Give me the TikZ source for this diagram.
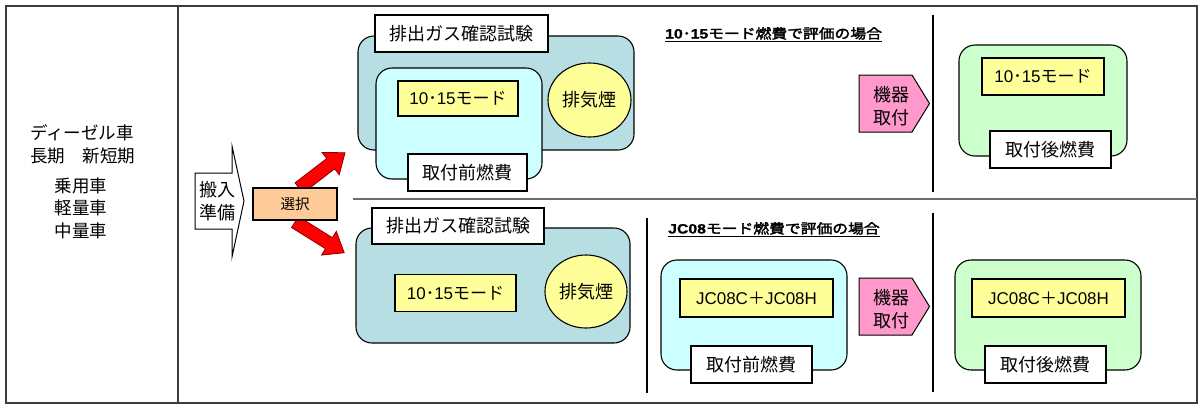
\documentclass[tikz,border=0pt]{standalone}
\usepackage{fontspec}
\setmainfont{Noto Sans CJK JP}
\newfontfamily\lat{Liberation Sans}
\newfontfamily\cjkheavy{Noto Sans CJK JP}[FakeBold=2.2]
\newfontfamily\latheavy{Liberation Sans Bold}[FakeBold=1]
\usepackage{graphicx}
\usetikzlibrary{shapes.geometric}
\definecolor{tealc}{RGB}{183,222,226}
\definecolor{cyanl}{RGB}{204,255,255}
\definecolor{ylw}{RGB}{255,255,153}
\definecolor{grn}{RGB}{204,255,204}
\definecolor{pnk}{RGB}{255,153,204}
\definecolor{org}{RGB}{255,204,153}
\definecolor{frm}{RGB}{60,60,60}
\definecolor{midline}{RGB}{110,110,110}
\definecolor{darkred}{RGB}{140,0,0}
\tikzset{
  outl/.style={draw=black, line width=1.1pt},
  frame/.style={draw=frm, line width=1.6pt},
  sepline/.style={draw=black, line width=1.1pt},
  grpbox/.style={outl, rectangle, rounded corners=16pt, inner sep=0pt},
  lblbox/.style={outl, rectangle, fill=white, inner sep=0pt, font=\fontsize{18}{22}\selectfont},
  ybox/.style={outl, rectangle, fill=ylw, inner sep=0pt, font=\fontsize{17}{20}\selectfont},
  smoke/.style={outl, ellipse, fill=ylw, inner sep=0pt, font=\fontsize{18}{22}\selectfont},
  lefttxt/.style={inner sep=0pt, font=\fontsize{17.5}{21}\selectfont},
  twoline/.style={inner sep=0pt, align=center, font=\fontsize{18}{23}\selectfont},
  ttl/.style={anchor=base west, inner sep=0pt, font=\fontsize{13.5}{15}\selectfont\cjkheavy},
  redarrow/.style={fill=red, draw=darkred, line width=0.8pt, line join=miter},
}
\newcommand{\redblock}[3]{% tail coord, angle, length
  \begin{scope}[shift={#1}, rotate=#2]
    \draw[redarrow] (0,-6.5) -- (#3-18,-6.5) -- (#3-18,-14) -- (#3,0) -- (#3-18,14) -- (#3-18,6.5) -- (0,6.5) -- cycle;
  \end{scope}}
\begin{document}
\begin{tikzpicture}[x=1pt,y=-1pt]
\useasboundingbox (0,0) rectangle (1203,405);
% frame
\draw[frame] (6,6) rectangle (1197,403);
\draw[frame] (178,6) -- (178,403);
\draw[draw=midline, line width=1.3pt] (353,199) -- (1197,199);
\draw[sepline] (933,15) -- (933,192);
\draw[sepline] (647,218) -- (647,393);
\draw[sepline] (933,213) -- (933,392);

% left texts
\node[lefttxt] (t1) at (82,133) {ディーゼル車};
\node[lefttxt] (t2) at (83,156) {長期　新短期};
\node[lefttxt] (t3) at (81,186) {乗用車};
\node[lefttxt] (t4) at (81,208) {軽量車};
\node[lefttxt] (t5) at (81,230.5) {中量車};

% white arrow
\draw[outl, fill=white, line width=1pt] (195,173) -- (232,173) -- (232,146) -- (244,201) -- (232,257) -- (232,229) -- (195,229) -- cycle;
\node[twoline] (hannyu) at (217,201) {搬入\\準備};

% red arrows
\coordinate (upTail) at (299,188);
\coordinate (dnTail) at (295,222);
\redblock{(upTail)}{37.5}{58}
\redblock{(dnTail)}{-32}{58}
\node[outl, fill=org, minimum width=84pt, minimum height=32pt, inner sep=0pt, font=\fontsize{14.5}{17}\selectfont] (sel) at (295,204) {選択};

% ===== top group =====
\node[grpbox, fill=tealc, minimum width=276pt, minimum height=114pt] (teal1) at (496,93) {};
\node[lblbox, minimum width=173pt, minimum height=37pt] (lbl1) at (461.5,33.5) {排出ガス確認試験};
\node[grpbox, fill=cyanl, minimum width=166pt, minimum height=111pt] (cyan1) at (459,123.5) {};
\node[ybox, minimum width=120pt, minimum height=35pt] (y1) at (458,98.5) {{\lat 10}･{\lat 15}モード};
\node[smoke, minimum width=83pt, minimum height=74pt] (e1) at (589.5,100) {排気煙};
\node[lblbox, minimum width=119pt, minimum height=37pt] (pre1) at (467.5,172.5) {取付前燃費};

\node[ttl] (title1) at (665,38.5) {\scalebox{1.17}[1]{\underline{{\latheavy 10}･{\latheavy 15}モード燃費で評価の場合}}};

\draw[outl, fill=pnk, line width=1pt] (859,75) -- (912,75) -- (929.5,103.5) -- (912,132) -- (859,132) -- cycle;
\node[twoline] (kiki1) at (891,106) {機器\\取付};

\node[grpbox, fill=grn, minimum width=168pt, minimum height=111pt] (grn1) at (1043,100.5) {};
\node[ybox, minimum width=122pt, minimum height=37pt] (y1b) at (1043,76.5) {{\lat 10}･{\lat 15}モード};
\node[lblbox, minimum width=121pt, minimum height=37pt] (post1) at (1050.5,149.5) {取付後燃費};

% ===== bottom group =====
\node[grpbox, fill=tealc, minimum width=274pt, minimum height=115pt] (teal2) at (493,285.5) {};
\node[lblbox, minimum width=172pt, minimum height=36pt] (lbl2) at (458,226) {排出ガス確認試験};
\node[ybox, minimum width=121pt, minimum height=37.5pt] (y2) at (455.5,293) {{\lat 10}･{\lat 15}モード};
\node[smoke, minimum width=82pt, minimum height=73pt] (e2) at (586,291.5) {排気煙};

\node[ttl] (title2) at (668,233.5) {\scalebox{1.17}[1]{\underline{{\latheavy JC08}モード燃費で評価の場合}}};

\node[grpbox, fill=cyanl, minimum width=186pt, minimum height=110pt] (cyan2) at (754,315) {};
\node[ybox, minimum width=153pt, minimum height=38pt] (y3) at (756.5,298) {{\lat JC08C}＋{\lat JC08H}};
\node[lblbox, minimum width=121pt, minimum height=37pt] (pre2) at (751.5,364.5) {取付前燃費};

\draw[outl, fill=pnk, line width=1pt] (859,278) -- (912,278) -- (929.5,306.5) -- (912,335) -- (859,335) -- cycle;
\node[twoline] (kiki2) at (891,309) {機器\\取付};

\node[grpbox, fill=grn, minimum width=186pt, minimum height=110pt] (grn2) at (1048,315) {};
\node[ybox, minimum width=153pt, minimum height=38pt] (y4) at (1048.5,298) {{\lat JC08C}＋{\lat JC08H}};
\node[lblbox, minimum width=121pt, minimum height=37pt] (post2) at (1045.5,364.5) {取付後燃費};
\end{tikzpicture}
\end{document}
